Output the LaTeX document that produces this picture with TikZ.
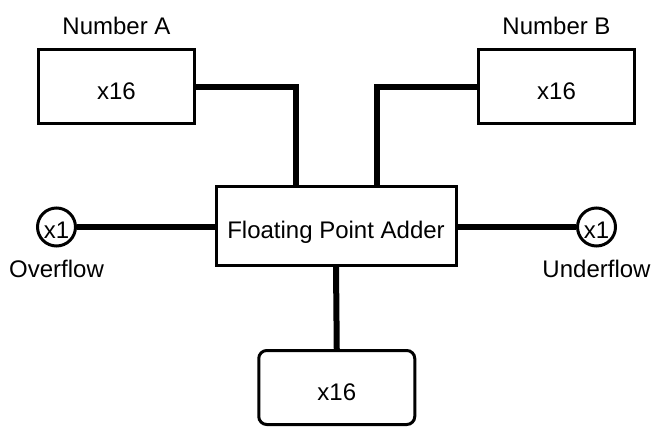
\documentclass[tikz,border=0pt]{standalone}
\usepackage{fontspec}
\setmainfont{Liberation Sans}
\usepackage{tikz}
\usetikzlibrary{positioning}

\tikzset{
  block/.style={draw, line width=3pt, inner sep=0pt,
    minimum width=156pt, minimum height=74pt,
    text height=25pt, text depth=0pt},
  port/.style={draw, circle, line width=3pt, inner sep=0pt,
    minimum size=38pt, text height=22pt, text depth=0pt},
  tag/.style={inner sep=0pt, anchor=base},
  wire/.style={line width=6pt}}

\begin{document}
\begin{tikzpicture}[x=1pt, y=-1pt, font=\fontsize{24}{28}\selectfont]
    \useasboundingbox (0,0) rectangle (660,436);

    \node[block] (numA) at (116.5,86.5) {x16};
    \node[block] (numB) at (556.5,86.5) {x16};
    \node[block, minimum width=240pt, minimum height=78.5pt, text height=26pt]
      (adder) at (336,225.75) {Floating Point Adder};
    \node[block, rounded corners=8pt] (result) at (336.75,387.5) {x16};
    \node[port] (ovf) at (56.5,227) {x1};
    \node[port] (unf) at (596.5,227) {x1};

    \node[tag] (labA) at (116.5,35) {Number A};
    \node[tag] (labB) at (556.5,35) {Number B};
    \node[tag] (labO) at (56.5,277) {Overflow};
    \node[tag] (labU) at (596.5,277) {Underflow};

    \draw[wire] (numA.east) -| ([xshift=-40.5pt]adder.north);
    \draw[wire] (numB.west) -| ([xshift=40.5pt]adder.north);
    \draw[wire] (ovf.east) -- (ovf.east -| adder.west);
    \draw[wire] (unf.west) -- (unf.west -| adder.east);
    \draw[wire] (adder.south) -- (result.north);
\end{tikzpicture}
\end{document}
